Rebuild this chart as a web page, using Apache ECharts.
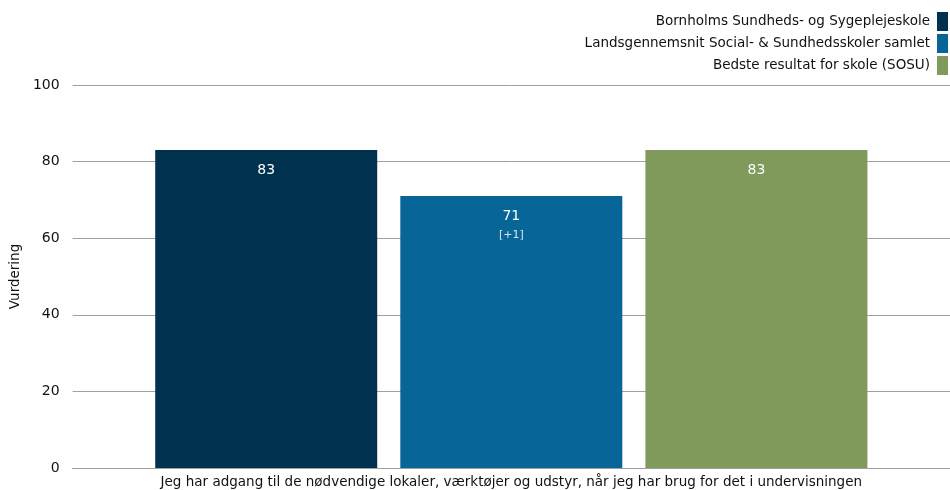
<!DOCTYPE html>
<html><head><meta charset="utf-8">
<script src="https://cdn.jsdelivr.net/npm/echarts@6/dist/echarts.min.js"></script>
<style>html,body{margin:0;padding:0;background:#fff}#c{width:950px;height:490px}</style>
</head><body><div id="c"></div>
<script>
const categories = ['Jeg har adgang til de nødvendige lokaler, værktøjer og udstyr, når jeg har brug for det i undervisningen'];
const seriesNames = ['Bornholms Sundheds- og Sygeplejeskole', 'Landsgennemsnit Social- & Sundhedsskoler samlet', 'Bedste resultat for skole (SOSU)'];
const seriesValues = [[83], [71], [83]];
const seriesDeltas = [[''], ['+1'], ['']];
const colors = ['#00324f', '#086598', '#7f9a5a'];
const yTicks = [0, 20, 40, 60, 80, 100];
const FONT = 'DejaVu Sans';

const chart = echarts.init(document.getElementById('c'), null, {renderer: 'canvas'});
chart.setOption({
  animation: false,
  textStyle: {fontFamily: FONT},
  legend: {
    orient: 'vertical', right: 2, top: 12, align: 'right', padding: 0,
    itemWidth: 11, itemHeight: 19, itemGap: 3,
    icon: 'rect',
    textStyle: {fontFamily: FONT, fontSize: 13.5, color: '#111', padding: [0, 2, 0, 0]},
    data: seriesNames
  },
  grid: {left: 65, right: -5, top: 85, bottom: 22, containLabel: false},
  xAxis: {
    type: 'category', data: categories,
    axisLine: {lineStyle: {color: '#a0a0a0', width: 1}},
    axisTick: {show: false},
    axisLabel: {fontFamily: FONT, fontSize: 13.5, color: '#111', margin: 7}
  },
  yAxis: {
    type: 'value', min: yTicks[0], max: yTicks[yTicks.length - 1], interval: 20,
    name: 'Vurdering', nameLocation: 'middle', nameGap: 42,
    nameTextStyle: {fontFamily: FONT, fontSize: 13.5, color: '#111'},
    axisLine: {show: false}, axisTick: {show: false},
    axisLabel: {fontFamily: FONT, fontSize: 14, color: '#111', margin: 13},
    splitLine: {lineStyle: {color: '#a0a0a0', width: 1}}
  },
  series: seriesNames.map((name, i) => ({
    name, type: 'bar', barWidth: 222, barGap: '10.4%',
    itemStyle: {color: colors[i]},
    data: seriesValues[i].map((v, j) => ({value: v, delta: seriesDeltas[i][j]})),
    label: {
      show: true, position: 'insideTop', distance: 10,
      formatter: p => p.data.delta ? '{a|' + p.value + '}\n{b|[' + p.data.delta + ']}' : '{a|' + p.value + '}',
      rich: {
        a: {fontFamily: FONT, fontSize: 14, color: '#fff', lineHeight: 20},
        b: {fontFamily: FONT, fontSize: 11, color: '#d8e4ee', lineHeight: 18}
      }
    }
  }))
});
</script></body></html>
